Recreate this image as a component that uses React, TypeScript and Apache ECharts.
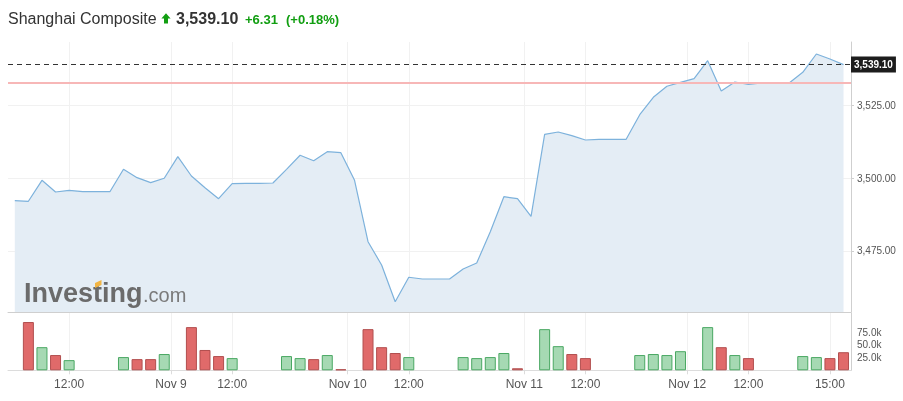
import React, { useEffect, useRef } from "react";
import * as echarts from "echarts";

// ---- data ----
const titleName = "Shanghai Composite";
const lastPrice = 3539.1;
const prevClose = 3532.79;
const changeText = "+6.31";
const changePctText = "(+0.18%)";

// closing prices, one per 30-minute slot, from slot -1 to slot 60
const prices = [
  3492.30, 3492.09, 3499.31, 3495.29, 3495.87, 3495.39, 3495.39, 3495.39, 3503.09, 3500.21,
  3498.49, 3500.00, 3507.43, 3500.79, 3496.77, 3492.98, 3498.14, 3498.28, 3498.28, 3498.38,
  3503.09, 3507.91, 3506.05, 3509.15, 3508.80, 3499.42, 3478.20, 3470.19, 3457.57, 3465.96,
  3465.37, 3465.37, 3465.37, 3468.81, 3470.87, 3481.64, 3493.67, 3492.98, 3486.93, 3515.13,
  3515.92, 3514.65, 3513.17, 3513.41, 3513.41, 3513.41, 3521.87, 3527.85, 3531.64, 3533.01,
  3534.25, 3540.44, 3530.02, 3533.12, 3532.32, 3532.77, 3532.77, 3532.77, 3536.45, 3542.74,
  3541.02, 3539.10,
];
const firstPriceSlot = -1;

// volume bars (slot index, thousands, direction)
const volSlots = [0, 1, 2, 3, 7, 8, 9, 10, 12, 13, 14, 15, 19, 20, 21, 22, 23, 25, 26, 27, 28, 32, 33, 34, 35, 36, 38, 39, 40, 41, 45, 46, 47, 48, 50, 51, 52, 53, 57, 58, 59, 60];
const volValues = [95, 45.5, 30, 20, 26, 22, 22, 32, 85, 40, 28, 24, 28, 24, 22, 30, 2, 81, 45.5, 34, 26, 26, 24, 26, 34, 4, 81, 47.5, 32, 24, 30, 32, 30, 37.6, 85, 45.5, 30, 24, 28, 26, 24, 35.6];
const volDir = ["d", "u", "d", "u", "u", "d", "d", "u", "d", "d", "d", "u", "u", "u", "d", "u", "d", "d", "d", "d", "u", "u", "u", "u", "u", "d", "u", "u", "d", "d", "u", "u", "u", "u", "u", "d", "u", "d", "u", "u", "d", "d"];

// x-axis ticks (slot positions) and labels
const xTickSlots = [3, 10.5, 15, 23.5, 28, 36.5, 41, 48.5, 53, 59];
const xTickLabels = ["12:00", "Nov 9", "12:00", "Nov 10", "12:00", "Nov 11", "12:00", "Nov 12", "12:00", "15:00"];
const priceTicks = [3475, 3500, 3525];
const volTicks = [25000, 50000, 75000];

const FONT = "'Liberation Sans', Arial, sans-serif";
const UP = "#119e11";

const fmtPrice = (v: number) =>
  v.toLocaleString("en-US", { minimumFractionDigits: 2, maximumFractionDigits: 2 });

export default function App() {
  const ref = useRef<HTMLDivElement>(null);
  useEffect(() => {
    const chart = echarts.init(ref.current!, null, { renderer: "svg" });
    const priceData = prices.map((p, i) => [i + firstPriceSlot, p]);
    const volData = volSlots.map((s, i) => ({
      value: [s, volValues[i] * 1000],
      itemStyle:
        volDir[i] === "u"
          ? { color: "#a6d9b3", borderColor: "#4aa863" }
          : { color: "#e06a6a", borderColor: "#b24f4f" },
    }));
    const xLabelFmt = (v: number) => {
      const k = xTickSlots.findIndex((t) => Math.abs(t - v) < 1e-6);
      return k >= 0 ? xTickLabels[k] : "";
    };
    const gridLine = { show: true, lineStyle: { color: "#f1f1f1", width: 1 } };
    const option: any = {
      animation: false,
      textStyle: { fontFamily: FONT },
      grid: [
        { left: 8, top: 42, width: 843, height: 270 },
        { left: 8, top: 313, width: 843, height: 57.3 },
      ],
      xAxis: [
        {
          type: "value",
          gridIndex: 0,
          min: -1.5,
          max: 60.55,
          axisLine: { show: true, onZero: false, lineStyle: { color: "#cfcfcf" } },
          axisTick: { show: false, customValues: xTickSlots },
          axisLabel: { show: false, customValues: xTickSlots },
          splitLine: gridLine,
        },
        {
          type: "value",
          gridIndex: 1,
          min: -1.5,
          max: 60.55,
          axisLine: { show: true, onZero: false, lineStyle: { color: "#dcdcdc" } },
          axisTick: { show: true, length: 4, lineStyle: { color: "#dcdcdc" }, customValues: xTickSlots },
          axisLabel: {
            customValues: xTickSlots,
            formatter: xLabelFmt,
            color: "#555",
            fontSize: 12,
            margin: 8,
            fontFamily: FONT,
          },
          splitLine: gridLine,
        },
      ],
      yAxis: [
        {
          type: "value",
          gridIndex: 0,
          position: "right",
          min: 3454.02,
          max: 3546.87,
          axisLine: { show: true, onZero: false, lineStyle: { color: "#cfcfcf" } },
          axisTick: { show: true, length: 3, lineStyle: { color: "#cfcfcf" }, customValues: priceTicks },
          axisLabel: {
            customValues: priceTicks,
            formatter: (v: number) => fmtPrice(v),
            color: "#555",
            fontSize: 10,
            margin: 6,
            fontFamily: FONT,
          },
          splitLine: gridLine,
        },
        {
          type: "value",
          gridIndex: 1,
          position: "right",
          min: 0,
          max: 112800,
          axisLine: { show: true, onZero: false, lineStyle: { color: "#cfcfcf" } },
          axisTick: { show: false, customValues: volTicks },
          axisLabel: {
            customValues: volTicks,
            formatter: (v: number) => (v / 1000).toFixed(1) + "k",
            color: "#555",
            fontSize: 10,
            margin: 6,
            fontFamily: FONT,
          },
          splitLine: { show: false },
        },
      ],
      series: [
        {
          type: "line",
          xAxisIndex: 0,
          yAxisIndex: 0,
          data: priceData,
          showSymbol: false,
          symbol: "none",
          z: 2,
          lineStyle: { color: "#7db2dc", width: 1.2 },
          areaStyle: { color: "#e4edf5", opacity: 1, origin: "start" },
          markLine: {
            silent: true,
            symbol: ["none", "none"],
            data: [
              {
                yAxis: prevClose,
                lineStyle: { color: "#f7b7b7", width: 2, type: "solid" },
                label: { show: false },
              },
              {
                yAxis: lastPrice,
                lineStyle: { color: "#333", width: 1, type: [5, 4] },
                label: {
                  show: true,
                  position: "end",
                  distance: 0,
                  formatter: () => fmtPrice(lastPrice),
                  backgroundColor: "#1d1d1d",
                  color: "#fff",
                  fontWeight: "bold",
                  fontSize: 10,
                  lineHeight: 10,
                  padding: [3, 3, 3, 3],
                  fontFamily: FONT,
                },
              },
            ],
          },
        },
        {
          type: "bar",
          xAxisIndex: 1,
          yAxisIndex: 1,
          data: volData,
          barWidth: 11,
          itemStyle: { borderWidth: 1 },
        },
      ],
      graphic: [
        {
          type: "text",
          x: 8,
          y: 18.5,
          style: { text: titleName, font: `16px ${FONT}`, fill: "#333", verticalAlign: "middle" },
        },
        {
          type: "polygon",
          shape: {
            points: [
              [166, 13.3], [170.6, 18.6], [168, 18.6], [168, 23.4], [164, 23.4], [164, 18.6], [161.4, 18.6],
            ],
          },
          style: { fill: UP },
        },
        {
          type: "text",
          x: 176,
          y: 18.5,
          style: { text: fmtPrice(lastPrice), font: `bold 16px ${FONT}`, fill: "#333", verticalAlign: "middle" },
        },
        {
          type: "text",
          x: 245,
          y: 19,
          style: { text: changeText, font: `bold 13px ${FONT}`, fill: UP, verticalAlign: "middle" },
        },
        {
          type: "text",
          x: 286,
          y: 19,
          style: { text: changePctText, font: `bold 13px ${FONT}`, fill: UP, verticalAlign: "middle" },
        },
        {
          type: "group",
          z: 100,
          children: [
            {
              type: "text",
              x: 24,
              y: 292.6,
              z: 100,
              style: { text: "Investing", font: `bold 27px ${FONT}`, fill: "#6b6b6b", verticalAlign: "middle" },
            },
            {
              type: "polygon",
              z: 101,
              shape: { points: [[95, 283], [101.5, 280], [101.5, 285], [95, 288]] },
              style: { fill: "#f2b544" },
            },
            {
              type: "text",
              x: 143,
              y: 295.4,
              z: 100,
              style: { text: ".com", font: `20px ${FONT}`, fill: "#7a7a7a", verticalAlign: "middle" },
            },
          ],
        },
      ],
    };
    chart.setOption(option);
    return () => chart.dispose();
  }, []);
  return <div ref={ref} style={{ position: "fixed", left: 0, top: 0, width: 903, height: 401 }} />;
}
